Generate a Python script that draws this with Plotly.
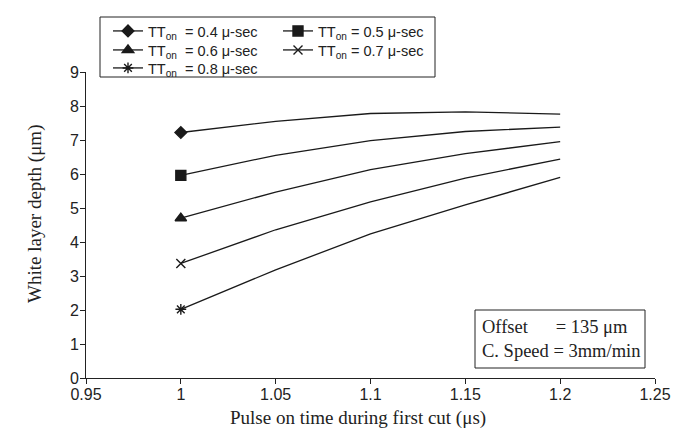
import plotly.graph_objects as go

x_vals = [1.0, 1.05, 1.1, 1.15, 1.2]
s04 = [7.22, 7.55, 7.78, 7.83, 7.76]
s05 = [5.96, 6.55, 6.98, 7.25, 7.38]
s06 = [4.70, 5.47, 6.13, 6.60, 6.95]
s07 = [3.37, 4.36, 5.18, 5.88, 6.44]
s08 = [2.02, 3.18, 4.24, 5.09, 5.90]

names = ["TT<sub>on</sub>\u00a0 = 0.4\u00a0μ-sec", "TT<sub>on</sub> = 0.5\u00a0μ-sec",
         "TT<sub>on</sub>\u00a0 = 0.6\u00a0μ-sec", "TT<sub>on</sub> = 0.7\u00a0μ-sec",
         "TT<sub>on</sub>\u00a0 = 0.8\u00a0μ-sec"]
series = [s04, s05, s06, s07, s08]
symbols = ["diamond", "square", "triangle-up", "x-thin-open", "asterisk-open"]
sizes = [9, 10, 10, 9, 9]
legend_ids = ["legend", "legend2", "legend3", "legend4", "legend5"]

x_title = "Pulse on time during first cut (μs)"
y_title = "White layer depth (μm)"
note = "Offset\u00a0\u00a0\u00a0\u00a0\u00a0\u00a0= 135 μm<br>C. Speed = 3mm/min"

col = "#1a1a1a"
fig = go.Figure()
for nm, ys, sym, sz, lg in zip(names, series, symbols, sizes, legend_ids):
    fig.add_trace(go.Scatter(x=x_vals, y=ys, mode="lines", line=dict(color=col, width=1.3),
                             showlegend=False, hoverinfo="skip"))
    fig.add_trace(go.Scatter(x=x_vals[:1], y=ys[:1], mode="lines+markers", name=nm,
                             line=dict(color=col, width=1.3),
                             marker=dict(symbol=sym, size=sz, color=col,
                                         line=dict(color=col, width=1.4)),
                             legend=lg))

sans = "Liberation Sans, Arial, sans-serif"
serif = "Liberation Serif, Times New Roman, serif"

L, R, T, B = 78, 32, 64, 71
PW, PH = 679 - L - R, 441 - T - B


def px_x(v):
    return (v - L) / PW


def px_y(v):
    return (441 - B - v) / PH


leg_common = dict(xanchor="left", yanchor="middle", bgcolor="rgba(0,0,0,0)",
                  font=dict(family=sans, size=14.5, color="#222"), itemwidth=30,
                  borderwidth=0)
legend_pos = [(100, 23), (270, 23), (100, 42), (270, 42), (100, 60)]
legend_layout = {}
for lid, (lx, ly) in zip(legend_ids, legend_pos):
    legend_layout[lid] = dict(x=px_x(lx), y=px_y(ly), **leg_common)

fig.update_layout(
    width=679, height=441,
    margin=dict(l=L, r=R, t=T, b=B, autoexpand=False),
    paper_bgcolor="white", plot_bgcolor="white",
    font=dict(family=sans, size=16, color="#222"),
    xaxis=dict(range=[0.95, 1.25], tickvals=[0.95, 1.0, 1.05, 1.1, 1.15, 1.2, 1.25],
               ticktext=["0.95", "1", "1.05", "1.1", "1.15", "1.2", "1.25"],
               showline=True, linecolor="#222", linewidth=1, ticks="outside",
               ticklen=5, tickcolor="#222", showgrid=False, zeroline=False,
               automargin=False, ticklabelstandoff=-3),
    yaxis=dict(range=[0, 9], dtick=1, showline=True, linecolor="#222", linewidth=1,
               ticks="outside", ticklen=5, tickcolor="#222", showgrid=False, zeroline=False,
               automargin=False, ticklabelstandoff=-2),
    shapes=[dict(type="rect", xref="paper", yref="paper",
                 x0=px_x(92), x1=px_x(427), y0=px_y(69), y1=px_y(9),
                 line=dict(color="#222", width=1)),
            dict(type="rect", xref="paper", yref="paper",
                 x0=px_x(467), x1=px_x(637), y0=px_y(360), y1=px_y(302),
                 line=dict(color="#222", width=1), fillcolor="white", layer="above")],
    annotations=[dict(xref="paper", yref="paper", x=px_x(472), y=px_y(331),
                      xanchor="left", yanchor="middle", align="left", showarrow=False,
                      text=note, font=dict(family=serif, size=18.5, color="#222")),
                 dict(xref="paper", yref="paper", x=px_x(350), y=px_y(410),
                      xanchor="center", yanchor="middle", showarrow=False,
                      text=x_title, font=dict(family=serif, size=19, color="#222")),
                 dict(xref="paper", yref="paper", x=px_x(27), y=px_y(206),
                      xanchor="center", yanchor="middle", showarrow=False, textangle=-90,
                      text=y_title, font=dict(family=serif, size=19, color="#222"))],
    **legend_layout,
)

fig.write_html("out.html")
